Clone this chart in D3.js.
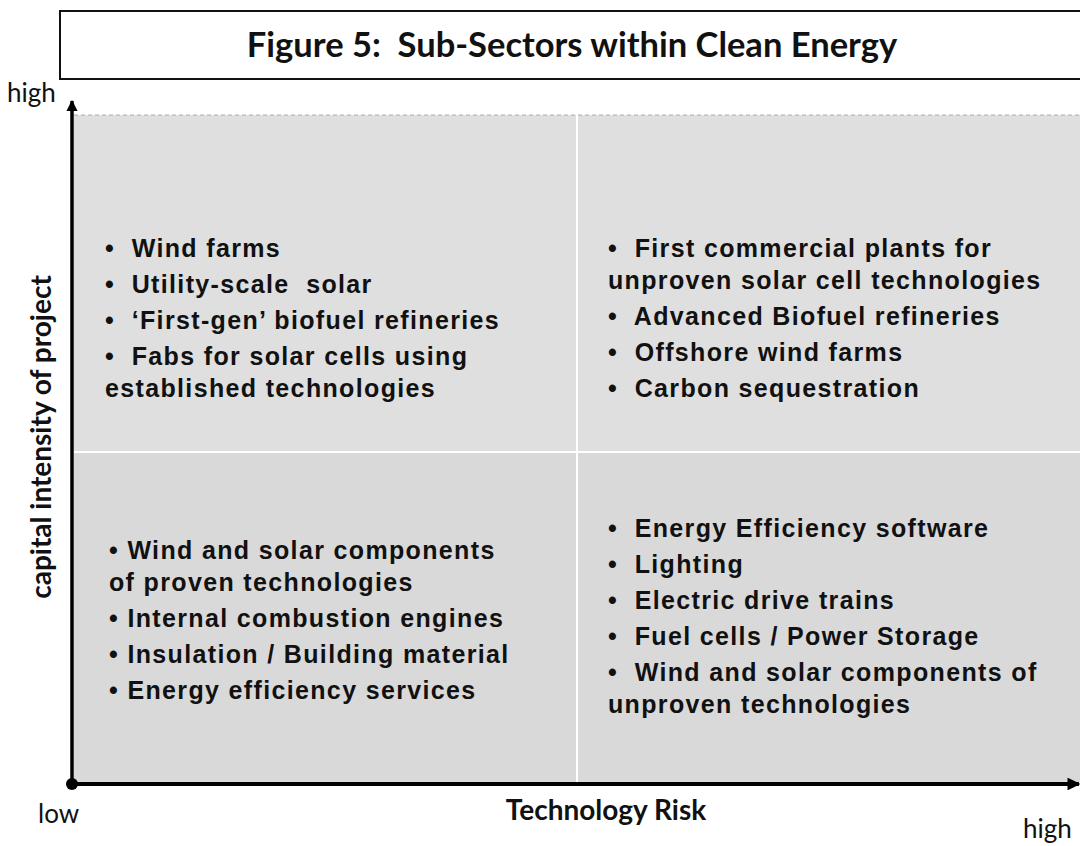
<!DOCTYPE html>
<html>
<head>
<meta charset="utf-8">
<script src="https://cdn.jsdelivr.net/npm/d3@7"></script>
<style>
  body { margin: 0; background: #fff; }
  svg { display: block; }
  .item { font-family: 'Liberation Sans', Arial, sans-serif; font-weight: bold; font-size: 25px; letter-spacing: 1.35px; fill: #111; white-space: pre; }
  .label { font-family: Lato, 'Open Sans', sans-serif; fill: #111; white-space: pre; }
</style>
</head>
<body>
<svg id="quadrants"></svg>
<script>
// axis levels
const riskLevels = ['low', 'high'];
const capitalLevels = ['low', 'high'];

// quadrants: which technology risk / capital intensity they sit in
const quadRisk = ['low', 'high', 'low', 'high'];
const quadCapital = ['high', 'high', 'low', 'low'];

// text of each quadrant, a leading bullet starts a new item
const quadLines = [
  ['•  Wind farms', '•  Utility-scale  solar', '•  \u2018First-gen\u2019 biofuel refineries', '•  Fabs for solar cells using', 'established technologies'],
  ['•  First commercial plants for', 'unproven solar cell technologies', '•  Advanced Biofuel refineries', '•  Offshore wind farms', '•  Carbon sequestration'],
  ['• Wind and solar components', 'of proven technologies', '• Internal combustion engines', '• Insulation / Building material', '• Energy efficiency services'],
  ['•  Energy Efficiency software', '•  Lighting', '•  Electric drive trains', '•  Fuel cells / Power Storage', '•  Wind and solar components of', 'unproven technologies']
];

const title = 'Figure 5:  Sub-Sectors within Clean Energy';
const xTitle = 'Technology Risk';
const yTitle = 'capital intensity of project';

(function() {
    const W = 1080, H = 846;
    const svg = d3.select('svg#quadrants')
        .attr('width', W)
        .attr('height', H);

    const quads = quadLines.map((lines, i) => ({ risk: quadRisk[i], capital: quadCapital[i], lines }));

    const xScale = d3.scaleBand()
        .domain(riskLevels)
        .range([74, W]);

    // upper half a little taller than the lower one
    const yScale = d3.scaleLinear()
        .domain([0, 1, 2])
        .range([782, 452, 115]);
    const yTop = (c) => yScale(capitalLevels.indexOf(c) + 1);
    const yBottom = (c) => yScale(capitalLevels.indexOf(c));

    // title box
    svg.append('rect')
        .attr('x', 60)
        .attr('y', 11)
        .attr('width', W)
        .attr('height', 68)
        .attr('fill', '#fff')
        .attr('stroke', '#111')
        .attr('stroke-width', 2);

    svg.append('text')
        .attr('class', 'label')
        .attr('x', 572)
        .attr('y', 57)
        .attr('text-anchor', 'middle')
        .style('font-size', '34.5px')
        .style('font-weight', 'bold')
        .text(title);

    // quadrant cells
    svg.append('g')
        .selectAll('rect')
        .data(quads)
        .enter()
        .append('rect')
        .attr('x', (q) => xScale(q.risk))
        .attr('y', (q) => yTop(q.capital))
        .attr('width', xScale.bandwidth())
        .attr('height', (q) => yBottom(q.capital) - yTop(q.capital))
        .attr('fill', (q) => q.capital === 'high' ? '#dfdfdf' : '#d9d9d9');

    // white dividers
    svg.append('line')
        .attr('x1', xScale('high')).attr('x2', xScale('high'))
        .attr('y1', yScale(2)).attr('y2', yScale(0))
        .attr('stroke', '#fff').attr('stroke-width', 2);
    svg.append('line')
        .attr('x1', xScale('low')).attr('x2', W)
        .attr('y1', yScale(1)).attr('y2', yScale(1))
        .attr('stroke', '#fff').attr('stroke-width', 2);

    // dashed top edge
    svg.append('line')
        .attr('x1', xScale('low')).attr('x2', W)
        .attr('y1', yScale(2)).attr('y2', yScale(2))
        .attr('stroke', '#aaa')
        .attr('stroke-dasharray', '4,3');

    // quadrant texts
    const bulletGap = 36, wrapGap = 32;
    quads.forEach((q) => {
        let y = 0;
        const offsets = q.lines.map((l, i) => {
            if (i > 0) y += l.startsWith('•') ? bulletGap : wrapGap;
            return y;
        });
        const mid = (yTop(q.capital) + yBottom(q.capital)) / 2;
        const shift = q.capital === 'high' ? 43 : 8;
        const y0 = mid - y / 2 + shift;
        const lowLow = q.capital === 'low' && q.risk === 'low';

        svg.append('g')
            .selectAll('text')
            .data(q.lines)
            .enter()
            .append('text')
            .attr('class', 'item')
            .attr('x', xScale(q.risk) + (lowLow ? 35 : 31))
            .attr('y', (l, i) => y0 + offsets[i] + (lowLow ? 4 : 0))
            .text((l) => l);
    });

    // axes
    const axisColor = '#000';
    const defs = svg.append('defs');
    defs.append('marker')
        .attr('id', 'arrow')
        .attr('viewBox', '0 0 10 10')
        .attr('refX', 9).attr('refY', 5)
        .attr('markerWidth', 3.2).attr('markerHeight', 3.2)
        .attr('markerUnits', 'strokeWidth')
        .attr('orient', 'auto')
        .append('path')
        .attr('d', 'M0,0L10,5L0,10z')
        .attr('fill', axisColor);

    const ox = 72, oy = 784;
    svg.append('line')
        .attr('x1', ox).attr('y1', oy)
        .attr('x2', ox).attr('y2', 101)
        .attr('stroke', axisColor).attr('stroke-width', 3.5)
        .attr('marker-end', 'url(#arrow)');
    svg.append('line')
        .attr('x1', ox).attr('y1', oy)
        .attr('x2', W - 1).attr('y2', oy)
        .attr('stroke', axisColor).attr('stroke-width', 4)
        .attr('marker-end', 'url(#arrow)');
    svg.append('circle')
        .attr('cx', ox).attr('cy', oy)
        .attr('r', 6)
        .attr('fill', axisColor);

    // axis end labels
    svg.append('text').attr('class', 'label')
        .attr('x', 7).attr('y', 102)
        .style('font-size', '26px')
        .text('high');
    svg.append('text').attr('class', 'label')
        .attr('x', 38).attr('y', 823)
        .style('font-size', '26px')
        .text('low');
    svg.append('text').attr('class', 'label')
        .attr('x', 1023).attr('y', 838)
        .style('font-size', '26px')
        .text('high');

    // axis titles
    svg.append('text').attr('class', 'label')
        .attr('x', 606).attr('y', 820)
        .attr('text-anchor', 'middle')
        .style('font-size', '28px')
        .style('font-weight', 'bold')
        .text(xTitle);

    svg.append('text').attr('class', 'label')
        .attr('transform', 'translate(51, 437) rotate(-90)')
        .attr('text-anchor', 'middle')
        .style('font-size', '28px')
        .style('font-weight', 'bold')
        .text(yTitle);
})();
</script>
</body>
</html>
